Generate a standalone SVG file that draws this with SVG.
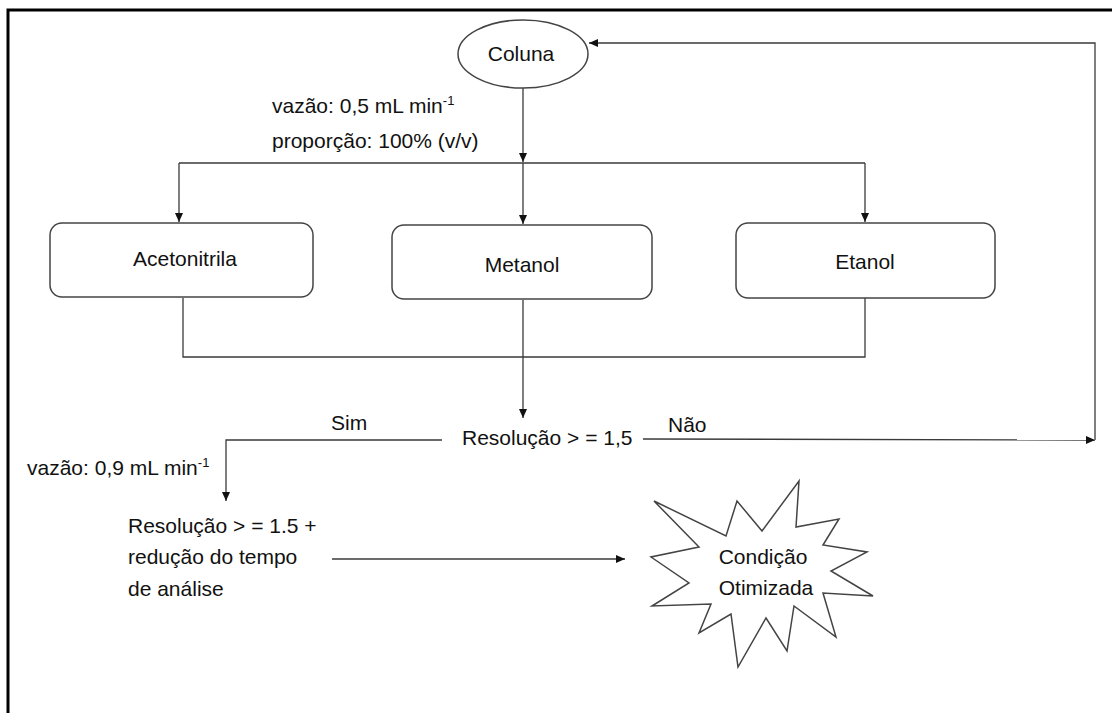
<svg xmlns="http://www.w3.org/2000/svg" width="1112" height="713" viewBox="0 0 1112 713">
<defs>
<style>
.t{font-family:"Liberation Sans",Arial,sans-serif;font-size:21px;fill:#111}
.c{text-anchor:middle}
.sup{font-size:13px}
.ln{fill:none;stroke:#3a3a3a;stroke-width:1.3}
.ar{fill:none;stroke:#3a3a3a;stroke-width:1.3;marker-end:url(#ah)}
.box{fill:#fff;stroke:#444;stroke-width:1.5}
</style>
<marker id="ah" markerUnits="userSpaceOnUse" markerWidth="10" markerHeight="8" refX="9" refY="4" orient="auto">
<path d="M0,0 L9,4 L0,8 Z" fill="#111"/>
</marker>
</defs>
<rect width="1112" height="713" fill="#fff"/>
<g id="frame">
<path d="M8,730 L8,10 L1120,10" fill="none" stroke="#000" stroke-width="3"/>
</g>
<g id="connectors">
<path class="ar" d="M523,88 L523,162"/>
<path class="ln" d="M179,163 L865,163"/>
<path class="ar" d="M179,163 L179,222"/>
<path class="ar" d="M523,163 L523,224"/>
<path class="ar" d="M865,163 L865,222"/>
<path class="ln" d="M183,298 L183,357 L865,357 L865,298"/>
<path class="ar" d="M523,300 L523,418"/>
<path class="ar" d="M442,440 L226,440 L226,501"/>
<path class="ar" d="M643,439 L1095,440"/>
<path class="ar" d="M1095,440 L1095,43 L589,43"/>
<path class="ar" d="M332,559 L625,559"/>
</g>
<g id="coluna">
<ellipse cx="523" cy="54" rx="65" ry="34" class="box"/>
<text class="t c" x="521" y="61">Coluna</text>
</g>
<g id="label-vazao1">
<text class="t" x="272" y="113">vazão: 0,5 mL min<tspan class="sup" dy="-8">-1</tspan></text>
<text class="t" x="272" y="148">proporção: 100% (v/v)</text>
</g>
<g id="acetonitrila">
<rect x="50" y="223" width="263" height="74" rx="12" class="box"/>
<text class="t c" x="185" y="266">Acetonitrila</text>
</g>
<g id="metanol">
<rect x="392" y="225" width="260" height="74" rx="12" class="box"/>
<text class="t c" x="522" y="272">Metanol</text>
</g>
<g id="etanol">
<rect x="736" y="223" width="259" height="75" rx="12" class="box"/>
<text class="t c" x="865" y="269">Etanol</text>
</g>
<g id="resolucao">
<text class="t" x="462" y="445">Resolução &gt; = 1,5</text>
</g>
<g id="labels">
<text class="t" x="331" y="430">Sim</text>
<text class="t" x="668" y="432">Não</text>
<text class="t" x="27" y="475">vazão: 0,9 mL min<tspan class="sup" dy="-8">-1</tspan></text>
</g>
<g id="resolucao2">
<text class="t" x="128" y="533">Resolução &gt; = 1.5 +</text>
<text class="t" x="128" y="564">redução do tempo</text>
<text class="t" x="128" y="596">de análise</text>
</g>
<g id="condicao">
<polygon class="box" points="654,501 726,536 737,501 762,531 799,481 796,527 839,519 823,545 867,552 831,571 873,596 823,593 836,637 794,606 787,651 766,618 738,667 731,614 699,633 711,604 652,606 689,583 651,557 699,547"/>
<text class="t c" x="763" y="564">Condição</text>
<text class="t c" x="766" y="595">Otimizada</text>
</g>
</svg>
